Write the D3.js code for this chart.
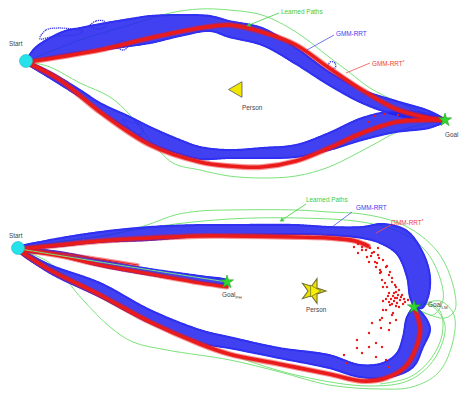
<!DOCTYPE html>
<html><head><meta charset="utf-8">
<script src="https://cdn.jsdelivr.net/npm/d3@7"></script>
<style>body{margin:0;background:#fff;} svg{display:block;} text{font-family:"Liberation Sans",Arial,sans-serif;}</style>
</head><body><svg id="c" width="459" height="394"></svg>
<script>
// ---------- DATA (world units, y grows downward) ----------
// Top panel
const topStart = [2.6, 6.1];
const topGoal = [44.5, 12.0];
const topPerson = [23.75, 8.95];
const topUpperBlueA = [[2.6,6.1],[3.5,4.8],[5.0,3.8],[6.5,3.1],[8.0,2.8],[10.0,2.4],[13.0,1.9],[15.0,1.6],[18.0,1.5],[21.0,1.6],[22.9,2.1],[26.2,2.8],[29.6,4.8],[32.9,7.2],[36.2,9.0],[39.6,10.1],[42.9,11.1],[44.4,11.9]];
const topUpperBlueB = [[2.6,6.2],[5.0,5.7],[8.0,5.2],[10.0,5.0],[13.0,4.6],[15.0,4.3],[18.0,3.6],[21.0,3.1],[22.9,3.7],[26.2,4.5],[29.6,6.4],[32.9,8.5],[36.2,10.3],[39.6,11.5],[42.9,12.1],[44.4,12.1]];
const topUpperRed = [[2.8,6.2],[6.0,5.7],[10.0,5.0],[15.0,3.8],[20.0,2.8],[23.0,2.5],[26.2,3.2],[29.6,4.5],[32.9,6.8],[36.2,9.0],[39.6,10.9],[42.9,11.8],[44.4,12.0]];
const topUpperGreen = [[3.0,6.0],[8.0,4.0],[13.0,2.5],[17.0,1.3],[20.0,0.9],[22.9,1.0],[26.2,1.5],[29.6,3.2],[32.9,5.7],[34.9,7.2],[37.0,8.8],[40.0,10.3],[44.4,12.0]];
const topLowerBlueA = [[2.6,6.1],[5.0,7.2],[8.0,9.0],[10.0,10.3],[13.0,11.7],[15.0,12.7],[18.0,14.0],[20.0,14.7],[22.9,15.0],[26.2,14.8],[29.6,14.5],[32.9,13.3],[36.2,11.8],[39.6,11.1],[42.9,11.4],[44.4,11.9]];
const topLowerBlueB = [[2.6,6.3],[5.0,7.8],[8.0,9.7],[10.0,11.1],[13.0,13.0],[15.0,14.3],[18.0,15.4],[20.0,15.9],[22.9,15.8],[26.2,15.8],[29.6,15.7],[32.9,15.0],[36.2,14.0],[39.6,13.2],[42.9,12.8],[44.4,12.2]];
const topLowerRed = [[2.8,6.3],[6.0,8.0],[10.0,11.2],[15.0,14.5],[20.0,16.2],[22.9,16.6],[26.2,16.7],[29.6,16.1],[32.9,14.8],[36.2,13.3],[39.6,12.2],[42.9,12.0],[44.4,12.0]];
const topLowerGreen = [[3.0,6.2],[5.0,6.7],[8.0,8.3],[11.0,9.7],[13.0,11.5],[15.0,14.0],[17.3,16.3],[20.0,17.0],[22.9,17.6],[26.2,17.8],[29.6,17.6],[32.9,16.7],[36.9,14.7],[40.2,13.0],[44.4,12.0]];
const topLoops = [
  [[4.0,3.9],[4.6,3.0],[5.8,2.8],[7.2,2.9],[8.3,3.1],[7.5,3.5],[5.5,3.6]],
  [[11.5,4.6],[11.8,4.2],[12.5,4.1],[12.8,4.6],[12.3,5.0]],
  [[9.0,2.6],[9.6,2.1],[10.4,2.1],[10.6,2.6],[9.9,2.9]],
  [[12.3,12.0],[13.0,12.2],[14.0,12.5],[14.3,13.2],[13.5,13.4]],
  [[32.8,6.8],[33.0,6.2],[33.5,6.3],[33.5,6.8]]
];
const topRedDots = [[37.5,11.6],[38.5,11.4],[39.8,11.5],[36.9,12.2],[40.6,11.9]];

// Bottom panel
const botStart = [1.8, 5.3];
const botGoalPH = [22.7, 8.7];
const botGoalLM = [41.4, 11.2];
const botPerson = [31.3, 9.6];
const botTopBlueA = [[1.8,5.2],[5.0,4.5],[10.0,3.7],[15.0,3.2],[20.0,3.0],[22.9,3.0],[29.6,3.0],[32.9,3.2],[36.2,3.2],[38.3,2.9],[40.7,3.6],[42.3,5.8],[43.0,8.2],[42.8,10.2],[42.2,11.3],[41.4,11.2]];
const botTopBlueB = [[1.8,5.4],[5.0,5.2],[10.0,4.7],[15.0,4.5],[20.0,4.1],[22.9,4.0],[29.6,3.9],[32.9,4.0],[36.2,4.3],[38.0,4.8],[39.7,5.9],[40.7,8.2],[41.0,10.2],[41.4,11.2]];
const botTopRed = [[2.0,5.4],[6.0,5.0],[10.0,4.6],[15.0,4.3],[20.0,4.1],[22.9,4.1],[29.6,4.2],[32.9,4.3],[35.5,4.6],[36.8,5.1]];
const botMidBlueA = [[1.8,5.3],[6.0,5.7],[10.0,6.5],[15.0,7.4],[20.0,8.1],[22.7,8.5]];
const botMidBlueB = [[1.8,5.5],[6.0,6.1],[10.0,7.1],[15.0,8.0],[20.0,8.7],[22.7,9.0]];
const botMidRed = [[2.0,5.5],[6.0,6.1],[10.0,7.0],[15.0,7.9],[20.0,8.8],[22.7,9.2]];
const botMidGreen = [[2.0,5.4],[10.0,6.7],[22.7,8.7]];
const botRedSpur = [[3.3,5.5],[8.0,6.1],[13.8,7.0]];
const botLowBlueA = [[1.8,5.4],[5.0,7.0],[10.0,8.8],[15.0,11.5],[20.0,13.5],[22.9,14.2],[27.9,15.3],[32.9,16.0],[36.0,17.0],[38.3,16.8],[39.7,15.8],[40.3,14.2],[40.7,12.2],[41.4,11.2]];
const botLowBlueB = [[1.8,5.6],[5.0,7.8],[10.0,10.2],[15.0,12.8],[20.0,14.8],[22.9,15.3],[27.9,16.3],[32.9,17.3],[36.0,18.2],[39.0,18.2],[41.3,17.2],[42.3,15.2],[43.0,13.5],[42.7,12.5],[41.8,11.4]];
const botLowRed = [[2.0,5.6],[5.0,7.5],[10.0,10.0],[15.0,12.7],[20.0,14.9],[22.9,15.9],[27.9,16.9],[32.9,17.9],[36.2,18.6],[38.6,18.3],[40.5,17.2],[41.6,15.3],[42.0,13.3],[41.4,11.2]];
const botGreens = [
  [[2.0,5.3],[7.0,4.5],[11.0,4.0],[14.7,3.0],[17.5,2.0],[20.0,1.6],[23.0,1.5],[29.6,1.5],[32.9,1.7],[36.2,1.9],[39.6,2.7],[42.0,4.0],[44.0,6.0],[45.3,9.0],[45.5,11.5],[44.5,12.3],[42.5,11.8],[41.4,11.2]],
  [[2.0,5.3],[10.0,4.1],[16.0,3.1],[22.9,2.4],[30.0,2.3],[36.2,2.7],[40.0,3.7],[42.5,5.5],[43.9,8.0],[44.3,10.5],[43.3,12.0],[41.4,11.2]],
  [[2.0,5.5],[5.0,6.8],[8.3,10.5],[11.0,13.2],[13.3,14.7],[16.7,15.5],[23.0,16.5],[28.0,17.7],[32.9,19.0],[38.0,19.4],[41.2,19.2],[43.8,17.8],[45.2,15.0],[45.4,12.0],[44.0,10.6],[41.4,11.2]],
  [[2.0,5.5],[6.0,7.8],[12.0,11.3],[22.9,15.9],[30.0,18.1],[37.0,19.1],[41.0,18.5],[43.5,16.3],[44.5,13.0],[43.0,11.0],[41.4,11.2]],
  [[38.0,18.9],[41.0,18.2],[43.0,16.5],[44.2,14.0],[44.0,11.6],[42.2,10.7],[41.4,11.2]]
];
const botRedDots = [[35.4,5.2],[36.2,5.5],[37.2,5.8],[37.9,6.3],[36.9,6.7],[37.6,7.2],[38.6,7.2],[38.1,7.7],[38.9,8.0],[38.2,8.5],[39.2,8.7],[39.6,9.2],[38.7,9.2],[39.9,9.5],[39.4,9.8],[40.2,10.0],[39.7,10.3],[38.6,11.5],[39.2,12.0],[38.2,12.3],[39.6,12.5],[37.2,12.8],[38.1,13.3],[38.9,13.5],[36.9,13.8],[35.7,14.5],[37.6,14.8],[38.2,15.2],[36.9,15.2],[35.7,15.3],[36.2,15.8],[34.4,16.0],[37.6,16.2],[38.6,16.5],[34.6,16.8],[38.9,17.2],[35.0,4.5],[36.7,6.2],[37.7,6.8],[38.0,7.8],[38.3,9.2],[38.3,11.5],[39.3,11.8],[38.0,12.5],[39.0,12.8],[39.1,10.4],[39.4,10.6],[39.7,10.8],[40.0,10.5],[40.3,10.9],[39.6,11.1],[39.2,10.9],[39.9,11.2],[40.5,10.7],[40.1,10.2],[39.5,10.3],[38.9,10.7],[36.5,4.9],[37.8,5.3],[35.8,5.8],
  [37.0,5.3],[37.4,5.7],[37.8,6.0],[38.3,6.5],[38.7,7.1],[39.0,7.7],[39.2,8.3],[39.5,9.0],[39.6,9.7],[39.3,10.1],[38.9,9.8],[38.5,8.8],[38.0,7.5],[37.5,6.7],[37.1,6.1],[36.6,5.5],[35.8,4.9],[36.2,5.2],[38.6,10.4],[38.3,10.6],[39.0,11.0],[40.8,10.5],[38.8,10.1],[39.8,10.0],[40.4,10.4]];

// ---------- RENDER ----------
const svg = d3.select("#c");
const x = d3.scaleLinear().domain([0,45.9]).range([0,459]);
const yTop = d3.scaleLinear().domain([0,19.5]).range([0,195]);
const yBot = d3.scaleLinear().domain([0,19.9]).range([195,394]);

const BLUE = "#2020ee", RED = "#ea1b1b", GREEN = "#7be27b";

function lineGen(y, curve){ return d3.line().x(d=>x(d[0])).y(d=>y(d[1])).curve(curve||d3.curveCatmullRom.alpha(0.5)); }

function greenPath(g, y, pts){
  g.append("path").attr("d", lineGen(y)(pts)).attr("fill","none").attr("stroke",GREEN).attr("stroke-width",1);
}
function blueBundle(g, y, A, B){
  const poly = A.concat(B.slice().reverse());
  g.append("path").attr("d", lineGen(y, d3.curveCatmullRomClosed.alpha(0.5))(poly))
    .attr("fill",BLUE).attr("fill-opacity",0.85).attr("stroke",BLUE).attr("stroke-width",1.2);
  [A,B].forEach(p=>g.append("path").attr("d", lineGen(y)(p)).attr("fill","none")
    .attr("stroke","#3030f2").attr("stroke-width",2).attr("stroke-dasharray","1.4 1").attr("stroke-linecap","round"));
}
function redPath(g, y, pts, w){
  w = w || 3.6;
  g.append("path").attr("d", lineGen(y)(pts)).attr("fill","none").attr("stroke",RED)
    .attr("stroke-width",w+2.2).attr("stroke-opacity",0.45).attr("stroke-linecap","round");
  g.append("path").attr("d", lineGen(y)(pts)).attr("fill","none").attr("stroke",RED).attr("stroke-width",w).attr("stroke-linecap","round");
}
function loops(g, y, arr){
  arr.forEach(p=>g.append("path").attr("d", lineGen(y, d3.curveCardinalClosed)(p)).attr("fill","none")
    .attr("stroke","#3434ee").attr("stroke-width",1.3).attr("stroke-dasharray","1.2 0.8"));
}
function dots(g, y, arr){
  g.selectAll(null).data(arr).enter().append("circle").attr("cx",d=>x(d[0])).attr("cy",d=>y(d[1])).attr("r",1.2).attr("fill",RED);
}
function label(g, y, px, py, txt, color, size, sub){
  const t = g.append("text").attr("x",x(px)).attr("y",y(py)).attr("fill",color).attr("font-size",size||6.4).text(txt);
  if(sub) t.append("tspan").attr("font-size",4.4).attr("dy",1.8).text(sub);
  return t;
}
function leader(g, y, a, b, color, arrow){
  g.append("line").attr("x1",x(a[0])).attr("y1",y(a[1])).attr("x2",x(b[0])).attr("y2",y(b[1])).attr("stroke",color).attr("stroke-width",0.8);
  if(arrow){
    const ang = Math.atan2(y(b[1])-y(a[1]), x(b[0])-x(a[0]))*180/Math.PI;
    g.append("path").attr("d", d3.symbol(d3.symbolTriangle).size(9)())
      .attr("transform",`translate(${x(a[0])},${y(a[1])}) rotate(${ang-90})`).attr("fill",color);
  }
}
function goalStar(g, y, p){
  g.append("path").attr("d", d3.symbol(d3.symbolStar).size(55)()).attr("transform",`translate(${x(p[0])},${y(p[1])})`)
    .attr("fill","#2fd62f").attr("stroke","#1a9a1a").attr("stroke-width",0.5);
}
function startDot(g, y, p){
  g.append("circle").attr("cx",x(p[0])).attr("cy",y(p[1])).attr("r",6.5).attr("fill","#25e2ea").attr("stroke","#1bb8c4").attr("stroke-width",0.6);
}

// Top panel
const gT = svg.append("g");
greenPath(gT, yTop, topUpperGreen);
greenPath(gT, yTop, topLowerGreen);
blueBundle(gT, yTop, topUpperBlueA, topUpperBlueB);
blueBundle(gT, yTop, topLowerBlueA, topLowerBlueB);
loops(gT, yTop, topLoops);
redPath(gT, yTop, topUpperRed);
redPath(gT, yTop, topLowerRed);
dots(gT, yTop, topRedDots);
startDot(gT, yTop, topStart);
goalStar(gT, yTop, topGoal);
gT.append("path").attr("d", d3.symbol(d3.symbolTriangle).size(105)())
  .attr("transform",`translate(${x(topPerson[0])},${yTop(topPerson[1])}) rotate(-90)`)
  .attr("fill","#f1e600").attr("stroke","#555").attr("stroke-width",0.8);
label(gT, yTop, 0.9, 4.6, "Start", "#444");
label(gT, yTop, 24.2, 11.0, "Person", "#444");
label(gT, yTop, 44.5, 13.7, "Goal", "#444");
label(gT, yTop, 28.1, 1.4, "Learned Paths", "#3ccc3c");
label(gT, yTop, 33.6, 3.6, "GMM-RRT", "#3a3af5");
label(gT, yTop, 37.2, 6.6, "GMM-RRT", "#f03a3a").append("tspan").attr("font-size",4.5).attr("dy",-2).text("*");
leader(gT, yTop, [24.9,2.5], [27.9,1.3], "#3ccc3c", true);
leader(gT, yTop, [30.7,5.0], [33.4,3.5], "#5050f0");
leader(gT, yTop, [34.6,7.3], [37.0,6.3], "#f05050");

// Bottom panel
const gB = svg.append("g");
botGreens.forEach(p=>greenPath(gB, yBot, p));
blueBundle(gB, yBot, botTopBlueA, botTopBlueB);
blueBundle(gB, yBot, botLowBlueA, botLowBlueB);
blueBundle(gB, yBot, botMidBlueA, botMidBlueB);
redPath(gB, yBot, botTopRed);
redPath(gB, yBot, botLowRed);
redPath(gB, yBot, botMidRed, 3);
redPath(gB, yBot, botRedSpur, 1.2);
greenPath(gB, yBot, botMidGreen);
dots(gB, yBot, botRedDots);
startDot(gB, yBot, botStart);
goalStar(gB, yBot, botGoalPH);
goalStar(gB, yBot, botGoalLM);
gB.append("path").attr("d", d3.symbol(d3.symbolStar).size(190)())
  .attr("transform",`translate(${x(botPerson[0])},${yBot(botPerson[1])}) rotate(18)`)
  .attr("fill","#ece200").attr("stroke","#6a6a30").attr("stroke-width",1);
gB.append("path").attr("d", d3.symbol(d3.symbolTriangle).size(60)())
  .attr("transform",`translate(${x(botPerson[0])+1},${yBot(botPerson[1])}) rotate(90)`)
  .attr("fill","#f7f000").attr("stroke","#6a6a30").attr("stroke-width",0.7);
label(gB, yBot, 0.9, 4.3, "Start", "#444");
label(gB, yBot, 22.2, 10.2, "Goal", "#444", 6.4, "PH");
label(gB, yBot, 30.6, 11.7, "Person", "#444");
label(gB, yBot, 42.8, 11.2, "Goal", "#444", 6.4, "LM");
label(gB, yBot, 30.6, 0.7, "Learned Paths", "#3ccc3c");
label(gB, yBot, 35.6, 1.5, "GMM-RRT", "#3a3af5");
label(gB, yBot, 39.1, 3.0, "GMM-RRT", "#f03a3a").append("tspan").attr("font-size",4.5).attr("dy",-2).text("*");
leader(gB, yBot, [28.2,2.5], [30.6,0.9], "#3ccc3c", true);
leader(gB, yBot, [33.2,3.2], [35.2,1.7], "#5050f0");
leader(gB, yBot, [37.6,3.8], [39.1,3.0], "#f05050");
</script></body></html>
